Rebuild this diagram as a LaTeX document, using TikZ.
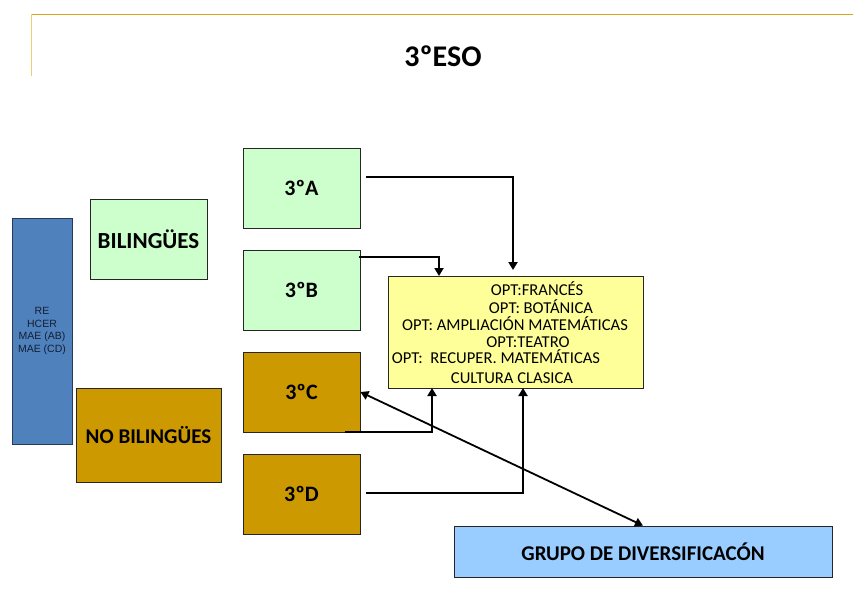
\documentclass[tikz,border=0pt]{standalone}
\usepackage{fontspec}
\setmainfont{Carlito}
\newfontfamily\arialf{Liberation Sans}
\usetikzlibrary{arrows.meta,calc}
\definecolor{gold}{RGB}{218,165,20}
\definecolor{goldlight}{RGB}{236,205,120}
\definecolor{mint}{RGB}{204,255,204}
\definecolor{ochre}{RGB}{204,153,0}
\definecolor{steel}{RGB}{79,129,189}
\definecolor{steeldark}{RGB}{40,60,90}
\definecolor{lemon}{RGB}{255,255,153}
\definecolor{sky}{RGB}{153,204,255}
\definecolor{navytext}{RGB}{20,30,50}
\begin{document}
\begin{tikzpicture}[x=1pt,y=-1pt,
  box/.style={draw=black!85,line width=0.8pt,inner sep=0pt,align=center},
  classbox/.style={box,minimum width=117pt,minimum height=80pt,font=\bfseries\fontsize{22}{26}\selectfont},
  optline/.style={inner sep=0pt,anchor=base,font=\fontsize{16.6}{20}\selectfont},
  arr/.style={line width=2pt,-{Triangle[length=8pt,width=9pt]}},
  dblarr/.style={line width=1.8pt,{Triangle[length=8pt,width=9pt]}-{Triangle[length=8pt,width=9pt]}}]
\useasboundingbox (0,0) rectangle (853,608);
% header lines
\draw[gold,line width=1pt] (31,14) -- (853,14);
\draw[goldlight,line width=1pt] (31,14) -- (31,76);
\node[inner sep=0pt,font=\bfseries\fontsize{30}{34}\selectfont] (title) at (443,56) {3ºESO};
% left column
\node[draw=steeldark,fill=steel,line width=0.8pt,minimum width=60pt,minimum height=226pt,inner sep=0pt,align=center,
      text=navytext,font=\arialf\fontsize{10.5}{12.7}\selectfont] (subj) at (42,331) {RE\\HCER\\MAE (AB)\\MAE (CD)};
\node[box,fill=mint,minimum width=117pt,minimum height=80pt,font=\bfseries\fontsize{23}{27}\selectfont] (bil) at (148.5,239) {BILINGÜES};
\node[box,fill=ochre,minimum width=145pt,minimum height=94pt,font=\bfseries\fontsize{21}{25}\selectfont] (nobil) at (148.5,435) {NO BILINGÜES};
% class boxes
\node[classbox,fill=mint] (A) at (301.5,188) {3ºA};
\node[classbox,fill=mint] (B) at (301.5,290) {3ºB};
\node[classbox,fill=ochre] (C) at (301.5,392) {3ºC};
\node[classbox,fill=ochre] (D) at (301.5,494) {3ºD};
% options box
\node[draw=black!85,fill=lemon,line width=0.8pt,minimum width=255pt,minimum height=112pt,inner sep=0pt] (Y) at (515.5,332) {};
\node[optline] (o1) at (537,295) {OPT:FRANCÉS};
\node[optline] (o2) at (541,313) {OPT: BOTÁNICA};
\node[optline] (o3) at (515,330.5) {OPT: AMPLIACIÓN MATEMÁTICAS};
\node[optline] (o4) at (528,347) {OPT:TEATRO};
\node[optline] (o5) at (496,363) {OPT:\ \ RECUPER. MATEMÁTICAS};
\node[optline] (o6) at (512,383) {CULTURA CLASICA};
% diversification group
\node[draw=black!85,fill=sky,line width=0.8pt,minimum width=378pt,minimum height=51pt,inner sep=0pt,
      font=\bfseries\fontsize{21}{25}\selectfont] (G) at (643,551.5) {GRUPO DE DIVERSIFICACÓN};
% connector anchor points
\coordinate (a0) at (366,177);
\coordinate (a1) at (513,270);
\coordinate (b0) at (359,257);
\coordinate (b1) at (439,276);
\coordinate (c0) at (345,432);
\coordinate (c1) at (432,388);
\coordinate (d0) at (366,493);
\coordinate (d1) at (523,388);
\draw[arr] (a0) -| (a1);
\draw[arr] (b0) -| (b1);
\draw[arr] (c0) -| (c1);
\draw[arr] (d0) -| (d1);
\draw[dblarr] (C.east) -- (G.north);
\end{tikzpicture}
\end{document}
